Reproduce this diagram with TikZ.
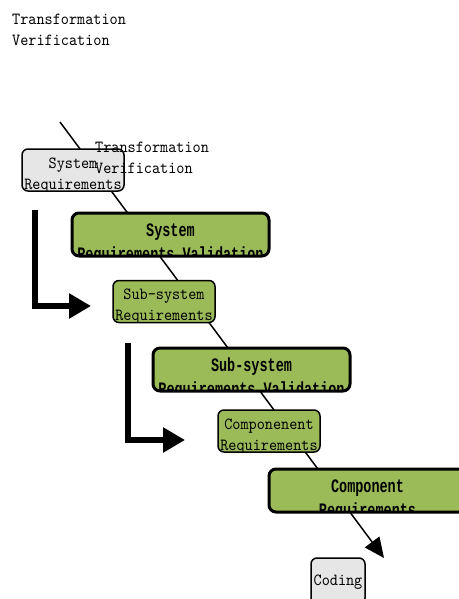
\documentclass[tikz,border=0pt]{standalone}
\usepackage{fontspec}
\newfontfamily\regmono{lmmono10-regular}[Extension=.otf, FakeStretch=0.91]
\newfontfamily\boldmono{Liberation Mono}[FakeStretch=0.71]
\usetikzlibrary{arrows.meta}
\definecolor{boxgreen}{HTML}{9BBB59}
\definecolor{boxgrey}{HTML}{E6E6E6}
\tikzset{
  txt/.style={font=\regmono\fontsize{17}{21.5}\selectfont, inner sep=0pt},
  rline/.style={font=\regmono\fontsize{17}{21}\selectfont, inner sep=0pt, anchor=base},
  bline/.style={font=\boldmono\bfseries\fontsize{19}{21}\selectfont, inner sep=0pt, anchor=base},
  reqbox/.style n args={3}{draw=black, line width=1.5pt, rounded corners=6pt, fill=#1,
    minimum width=102pt, minimum height=42pt, inner sep=0pt,
    path picture={\node[rline] at ([yshift=-19pt]path picture bounding box.north) {#2};
      \node[rline] at ([yshift=-40pt]path picture bounding box.north) {#3};}},
  codebox/.style={draw=black, line width=1.5pt, rounded corners=6pt, fill=boxgrey,
    minimum width=54pt, minimum height=46pt, inner sep=0pt,
    path picture={\node[rline] at ([yshift=-27pt]path picture bounding box.north) {#1};}},
  valbox/.style 2 args={draw=black, line width=3pt, rounded corners=7pt, fill=boxgreen,
    minimum width=197pt, minimum height=43pt, inner sep=0pt,
    path picture={\node[bline] at ([yshift=-23pt]path picture bounding box.north) {#1};
      \node[bline] at ([yshift=-47.5pt]path picture bounding box.north) {#2};}},
  flowline/.style={line width=1.5pt, -{Triangle[length=20pt,width=18pt]}},
  bigarrow/.style={line width=6pt, -{Triangle[length=22pt,width=24pt]}},
}
\begin{document}
\begin{tikzpicture}[x=1pt, y=-1pt]
\useasboundingbox (0,0) rectangle (458,599);
% top-left text
\node[txt, anchor=north west, align=left] (toptext) at (12,13.6) {Transformation\\Verification};
% diagonal flow line
\coordinate (ls) at (60,122);
\coordinate (le) at (384,558);
\draw[flowline] (ls) -- (le);
% boxes
\node[reqbox={boxgrey}{System}{Requirements}] (sysreq) at (73,170) {};
\node[valbox={System}{Requirements Validation}] (sysval) at (170.5,234.5) {};
\node[reqbox={boxgreen}{Sub-system}{Requirements}] (subreq) at (164,301.5) {};
\node[valbox={Sub-system}{Requirements Validation}] (subval) at (251.5,369.5) {};
\node[reqbox={boxgreen}{Componenent}{Requirements}] (compreq) at (269,431) {};
\node[valbox={Component}{Requirements}] (compval) at (367.5,490.5) {};
\node[codebox={Coding}] (coding) at (338,581) {};
% overlay text
\node[txt, anchor=north west, align=left] (overtext) at (95,141.6) {Transformation\\Verification};
% thick L arrows
\coordinate (a1s) at (35,210);
\coordinate (a1e) at (91,306);
\draw[bigarrow] (a1s) |- (a1e);
\coordinate (a2s) at (128,343);
\coordinate (a2e) at (185,440);
\draw[bigarrow] (a2s) |- (a2e);
\end{tikzpicture}
\end{document}
